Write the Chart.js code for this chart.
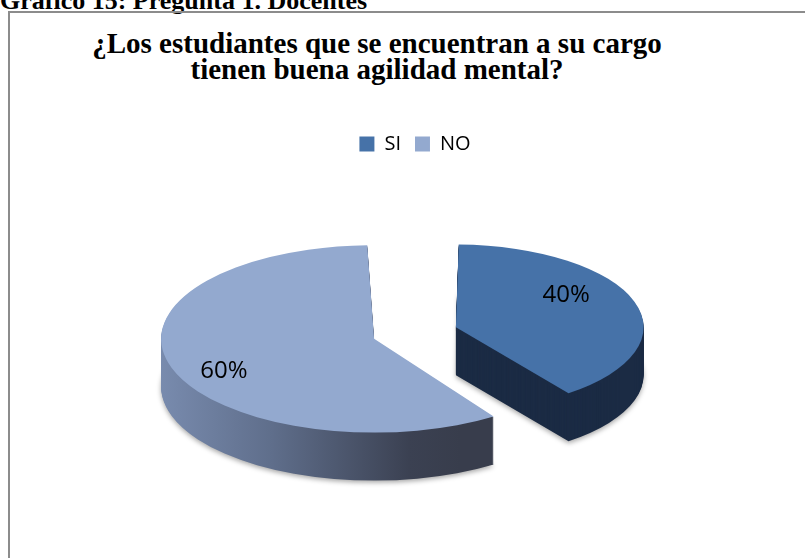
<!DOCTYPE html>
<html>
<head>
<meta charset="utf-8">
<script src="https://cdn.jsdelivr.net/npm/chart.js@4.4.0/dist/chart.umd.min.js"></script>
<style>
  body { margin:0; background:#fff; width:805px; height:558px; overflow:hidden; position:relative; }
  #heading { position:absolute; left:0; top:-11px; font:bold 26px "Liberation Serif", "Times New Roman", serif; line-height:24px; white-space:nowrap; color:#000; }
  #frame { position:absolute; left:8px; top:11px; width:820px; height:600px; border-left:2px solid #8c8c8c; border-top:2px solid #8c8c8c; }
  #title { position:absolute; left:77px; width:600px; top:30px; text-align:center; font:bold 29px "Liberation Serif", "Times New Roman", serif; line-height:26px; color:#000; }
  #wrap { position:absolute; left:10px; top:120px; width:795px; height:438px; }
</style>
</head>
<body>
<div id="heading">Gráfico 15: Pregunta 1. Docentes</div>
<div id="frame"></div>
<div id="title">¿Los estudiantes que se encuentran a su cargo<br>tienen buena agilidad mental?</div>
<div id="wrap"><canvas id="grafico"></canvas></div>
<script>
var etiquetas = ['SI', 'NO'];
var porcentajes = [40, 60];

var colorCara = ['#4672a8', '#93a9cf'];
var colorLado = ['#1b2b44', null];   // null: el lado de NO va con degradado

var aplastar = 0.44;   // achatamiento vertical del pastel
var grosor = 48;       // alto de la pared lateral en px

// dibuja las paredes del pastel 3D y achata la cara superior
var pastel3d = {
	id: 'pastel3d',
	beforeDatasetsDraw: function(chart) {
		var ctx = chart.ctx;
		var area = chart.chartArea;
		var cx = (area.left + area.right) / 2;
		var cy = (area.top + area.bottom) / 2;
		var meta = chart.getDatasetMeta(0);

		ctx.save();
		ctx.translate(cx, cy);
		ctx.scale(1, aplastar);
		ctx.translate(-cx, -cy);

		meta.data.forEach(function(arc, i) {
			var relleno = colorLado[i];
			if (!relleno) {
				var mid = (arc.startAngle + arc.endAngle) / 2;
				var ox = arc.x + Math.cos(mid) * arc.options.offset / 4;
				var g = ctx.createLinearGradient(ox - arc.outerRadius - 45, 0, ox + arc.outerRadius * 0.75, 0);
				g.addColorStop(0, '#8296bb');
				g.addColorStop(0.45, '#5f6e8b');
				g.addColorStop(0.85, '#3b4152');
				g.addColorStop(1, '#383d4c');
				relleno = g;
			}
			var copia = Object.create(arc);
			copia.options = Object.assign({}, arc.options, {backgroundColor: relleno, borderWidth: 0});
			for (var k = grosor; k >= 1; k--) {
				ctx.save();
				ctx.translate(0, k / aplastar);
				if (k === grosor) {
					ctx.shadowColor = 'rgba(0,0,0,0.35)';
					ctx.shadowBlur = 5;
					ctx.shadowOffsetY = 2;
				}
				copia.draw(ctx);
				ctx.restore();
			}
		});
	},
	afterDatasetsDraw: function(chart) {
		var ctx = chart.ctx;
		ctx.restore();

		var area = chart.chartArea;
		var cy = (area.top + area.bottom) / 2;
		var meta = chart.getDatasetMeta(0);
		ctx.save();
		ctx.font = '24px "Open Sans"';
		ctx.fillStyle = '#000';
		ctx.textAlign = 'center';
		ctx.textBaseline = 'middle';
		meta.data.forEach(function(arc, i) {
			var mid = (arc.startAngle + arc.endAngle) / 2;
			var desp = arc.options.offset / 4;
			var ox = arc.x + Math.cos(mid) * desp;
			var oy = arc.y + Math.sin(mid) * desp;
			var a = mid - 0.2;
			var r = arc.outerRadius * 0.88;
			var px = ox + Math.cos(a) * r - 20;
			var py = cy + (oy + Math.sin(a) * r - cy) * aplastar;
			ctx.fillText(porcentajes[i] + '%', px, py);
		});
		ctx.restore();
	}
};

var ctx = document.getElementById('grafico');

var grafico = new Chart(ctx, {
	type: 'pie',
	data: {
		labels: etiquetas,
		datasets: [{
			data: porcentajes,
			backgroundColor: colorCara,
			borderWidth: 0,
			offset: 172,
			hoverOffset: 0,
			radius: 170,
			clip: false
		}]
	},
	options: {
		responsive: true,
		maintainAspectRatio: false,
		animation: false,
		events: [],
		layout: { padding: { left: 15, right: 0, top: 0, bottom: 56 } },
		plugins: {
			legend: {
				position: 'top',
				labels: {
					boxWidth: 15,
					boxHeight: 15,
					padding: 14,
					color: '#000',
					font: { family: 'Open Sans', size: 20 }
				}
			},
			tooltip: { enabled: false }
		}
	},
	plugins: [pastel3d]
});
</script>
</body>
</html>
